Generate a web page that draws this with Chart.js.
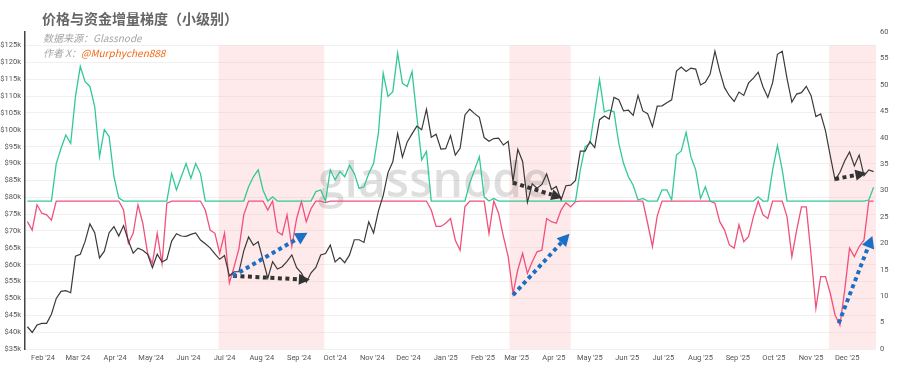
<!DOCTYPE html>
<html><head><meta charset="utf-8">
<script src="https://cdn.jsdelivr.net/npm/chart.js@4.4.1/dist/chart.umd.min.js"></script>
<style>html,body{margin:0;padding:0;background:#fff;}#wrap{width:900px;height:381px;position:relative;}</style>
</head><body><div id="wrap"><canvas id="c" width="900" height="381"></canvas></div>
<script>
// ---- data ----
const START_DATE = '2024-01-19';
const STEP_DAYS = 4;
// BTC price, $k, every 4 days
const price = [
41.6,39.9,42.1,42.6,42.6,45.3,50.0,52.1,52.3,51.7,62.5,63.1,66.9,72.1,69.5,62.0,64.0,69.5,71.3,68.5,
71.6,67.1,63.4,64.9,64.3,63.1,59.1,63.1,60.8,61.6,67.0,69.2,68.5,68.4,69.0,69.4,67.3,66.2,65.0,63.2,
61.6,62.7,56.7,57.9,57.9,64.1,68.2,65.8,66.8,61.4,56.0,60.9,58.7,59.4,61.0,62.9,59.1,57.5,54.8,57.6,
59.2,62.9,63.3,65.8,60.8,62.1,60.6,62.9,67.4,67.4,66.6,72.7,69.4,75.9,80.5,87.3,90.5,98.9,91.9,96.4,
98.8,101.1,100.0,106.1,97.8,98.7,94.3,94.4,98.3,92.5,94.5,104.4,106.1,104.8,103.7,97.7,96.6,97.4,97.5,95.5,
96.6,84.7,94.2,90.6,78.5,84.0,82.7,83.8,86.9,82.3,83.2,79.2,83.4,83.6,85.0,93.7,93.7,96.5,94.7,103.0,
104.1,103.2,109.6,108.9,105.6,105.8,104.3,110.2,105.6,104.8,100.9,107.0,107.1,108.0,108.9,117.4,118.6,117.3,118.3,118.0,
113.3,114.1,116.5,123.3,117.4,112.5,110.1,108.4,111.2,110.2,113.9,115.3,117.1,112.7,109.6,114.0,122.4,123.3,115.2,108.2,
110.6,111.0,112.9,110.1,103.9,104.7,99.7,92.2,85.1,87.4,90.8,93.4,89.3,92.5,86.4,88.1,87.6
];
// capital increment gradient (right axis), every 4 days
const gradient = [
24.1,22.5,27.3,25.7,25.4,24.4,35.1,38.0,40.5,38.9,47.8,53.5,50.6,49.7,45.9,36.4,41.5,40.2,32.6,28.6,
26.3,20.0,21.9,27.3,23.8,18.1,16.2,21.9,16.2,27.6,33.2,30.1,32.6,35.1,32.3,35.1,33.2,26.3,22.5,21.9,
18.1,21.9,12.5,15.6,19.0,25.4,30.7,32.6,33.9,30.1,26.3,28.8,22.2,21.6,25.4,19.4,24.7,27.9,24.1,26.6,
29.8,30.1,27.7,33.9,32.0,33.6,32.6,34.8,33.2,30.4,30.7,33.2,35.1,40.8,52.2,47.8,48.7,56.0,50.3,49.7,
52.5,44.0,35.8,37.4,26.3,23.2,23.2,23.8,24.7,20.6,18.7,26.9,31.4,33.9,36.4,28.8,21.9,28.5,25.7,21.3,
17.5,10.5,15.0,18.1,14.3,16.5,18.4,18.7,24.7,24.1,23.8,26.3,27.7,26.9,27.9,33.9,38.3,38.9,44.9,51.0,
44.9,45.2,44.9,38.9,35.1,32.6,31.0,28.2,28.5,23.8,19.4,25.2,30.1,30.1,28.2,36.7,37.5,41.0,36.4,33.9,
28.5,30.7,28.0,27.6,24.1,22.5,19.7,19.1,23.5,20.3,21.3,25.0,28.8,25.4,24.7,33.9,38.5,33.9,25.0,17.5,
22.5,26.9,26.9,17.8,7.7,13.7,13.7,10.5,6.4,4.5,11.2,19.1,17.5,19.4,20.6,28.2,30.6
];
const THRESHOLD = 28;
const monthLabels = ["Feb '24","Mar '24","Apr '24","May '24","Jun '24","Jul '24","Aug '24","Sep '24","Oct '24","Nov '24","Dec '24","Jan '25",
"Feb '25","Mar '25","Apr '25","May '25","Jun '25","Jul '25","Aug '25","Sep '25","Oct '25","Nov '25","Dec '25"];
const monthDates = ['2024-02-01','2024-03-01','2024-04-01','2024-05-01','2024-06-01','2024-07-01','2024-08-01','2024-09-01','2024-10-01','2024-11-01','2024-12-01','2025-01-01',
'2025-02-01','2025-03-01','2025-04-01','2025-05-01','2025-06-01','2025-07-01','2025-08-01','2025-09-01','2025-10-01','2025-11-01','2025-12-01'];
const bandStarts = ['2024-06-26','2025-02-23','2025-11-16'];
const bandEnds   = ['2024-09-22','2025-04-15','2025-12-25'];
const BAND_TOP = 125;
// annotation arrows: [fromDate, fromValue, toDate, toValue, axis]
const blackArrows = [
  ['2024-07-08',56.7,'2024-09-10',55.5],
  ['2025-02-26',84.3,'2025-04-08',79.8],
  ['2025-11-21',85.4,'2025-12-17',87.2]
];
const blueArrows = [
  ['2024-07-08',13.8,'2024-09-08',22.0],
  ['2025-02-26',10.2,'2025-04-14',21.8],
  ['2025-11-24',4.9,'2025-12-22',21.4]
];
const X_MIN_DATE = '2024-01-17', X_MAX_DATE = '2025-12-25';

// ---- helpers ----
const ORIGIN = Date.parse('2024-02-01T00:00:00Z');
const dayOf = s => (Date.parse(s + 'T00:00:00Z') - ORIGIN) / 864e5;
const x0 = dayOf(START_DATE);
const xs = price.map((_, i) => x0 + STEP_DAYS * i);
const monthDays = monthDates.map(dayOf);

const tickFont = {family: 'Roboto', size: 7.5};
const decor = {
  id: 'decor',
  beforeDatasetsDraw(chart) {
    const {ctx, chartArea: a, scales} = chart;
    ctx.save();
    ctx.fillStyle = 'rgba(250,175,175,0.26)';
    const top = scales.y.getPixelForValue(BAND_TOP);
    bandStarts.forEach((s, k) => {
      const l = scales.x.getPixelForValue(dayOf(s));
      const r = Math.min(scales.x.getPixelForValue(dayOf(bandEnds[k])), a.right);
      ctx.fillRect(l, top, r - l, a.bottom - top);
    });
    ctx.font = '600 48px "Open Sans"';
    ctx.fillStyle = 'rgba(0,0,0,0.13)';
    ctx.textBaseline = 'alphabetic';
    ctx.textAlign = 'left';
    ctx.fillText('glassnode', 318, 197);
    ctx.restore();
  },
  afterDatasetsDraw(chart) {
    const {ctx, scales} = chart;
    const draw = (arr, axis, color, dash, hl, hw) => arr.forEach(a => {
      const x1 = scales.x.getPixelForValue(dayOf(a[0])), y1 = scales[axis].getPixelForValue(a[1]);
      const x2 = scales.x.getPixelForValue(dayOf(a[2])), y2 = scales[axis].getPixelForValue(a[3]);
      const ang = Math.atan2(y2 - y1, x2 - x1);
      const bx = x2 - hl * Math.cos(ang), by = y2 - hl * Math.sin(ang);
      ctx.save();
      ctx.strokeStyle = color; ctx.lineWidth = 4; ctx.setLineDash(dash); ctx.lineCap = 'butt';
      ctx.beginPath(); ctx.moveTo(x1, y1); ctx.lineTo(bx, by); ctx.stroke();
      ctx.setLineDash([]); ctx.fillStyle = color;
      ctx.beginPath(); ctx.moveTo(x2, y2);
      ctx.lineTo(bx + hw * Math.sin(ang), by - hw * Math.cos(ang));
      ctx.lineTo(bx - hw * Math.sin(ang), by + hw * Math.cos(ang));
      ctx.closePath(); ctx.fill();
      ctx.restore();
    });
    draw(blackArrows, 'y', '#333333', [4, 3.5], 11, 5.5);
    draw(blueArrows, 'y1', '#1b6fc6', [4, 3.5], 12, 6.5);
  },
  afterDraw(chart) {
    const ctx = chart.ctx;
    ctx.save();
    ctx.textBaseline = 'middle'; ctx.textAlign = 'left';
    ctx.font = 'bold 14px "Noto Sans CJK SC"';
    ctx.fillStyle = '#666666';
    ctx.fillText('价格与资金增量梯度（小级别）', 42, 19);
    ctx.font = 'italic 10px "Noto Sans CJK SC"';
    ctx.fillStyle = '#a6a6a6';
    ctx.fillText('数据来源：Glassnode', 43, 38);
    const pre = '作者 X：';
    ctx.fillText(pre, 43, 53);
    const w = ctx.measureText(pre).width;
    ctx.fillStyle = '#f26a1b';
    ctx.fillText('@Murphychen888', 43 + w, 53);
    ctx.restore();
  }
};

new Chart(document.getElementById('c'), {
  type: 'line',
  data: {
    datasets: [
      {label: 'Price', data: price.map((v, i) => ({x: xs[i], y: v})), yAxisID: 'y',
       borderColor: '#3a3a3a', borderWidth: 1.2, pointRadius: 0, tension: 0, order: 0},
      {label: 'Above', data: gradient.map((v, i) => ({x: xs[i], y: Math.max(v, THRESHOLD)})), yAxisID: 'y1',
       borderColor: '#33c89a', borderWidth: 1.3, pointRadius: 0, tension: 0, order: 1},
      {label: 'Below', data: gradient.map((v, i) => ({x: xs[i], y: Math.min(v, THRESHOLD)})), yAxisID: 'y1',
       borderColor: '#f0517a', borderWidth: 1.3, pointRadius: 0, tension: 0, order: 2}
    ]
  },
  options: {
    responsive: false, animation: false, parsing: true,
    layout: {padding: {top: 32, left: 0, right: 0, bottom: 0}},
    plugins: {legend: {display: false}, tooltip: {enabled: false}},
    scales: {
      x: {
        type: 'linear', min: dayOf(X_MIN_DATE), max: dayOf(X_MAX_DATE),
        grid: {display: false, drawTicks: false},
        border: {display: false},
        afterBuildTicks: s => { s.ticks = monthDays.map(v => ({value: v})); },
        afterFit: s => { s.height = 32; },
        ticks: {autoSkip: false, maxRotation: 0, padding: 5, font: tickFont, color: '#555',
                callback: (v, i) => monthLabels[i]}
      },
      y: {
        position: 'left', min: 35, max: 129,
        grid: {color: '#f0f0f0', drawTicks: false},
        border: {display: true, color: '#444', width: 1.5},
        afterFit: s => { s.width = 25; },
        ticks: {stepSize: 5, includeBounds: false, padding: 4, font: tickFont, color: '#555',
                callback: v => '$' + v + 'k'}
      },
      y1: {
        position: 'right', min: 0, max: 60,
        grid: {display: false, drawTicks: false},
        border: {display: false},
        afterFit: s => { s.width = 24; },
        ticks: {stepSize: 5, padding: 4, font: tickFont, color: '#555'}
      }
    }
  },
  plugins: [decor]
});
</script></body></html>
